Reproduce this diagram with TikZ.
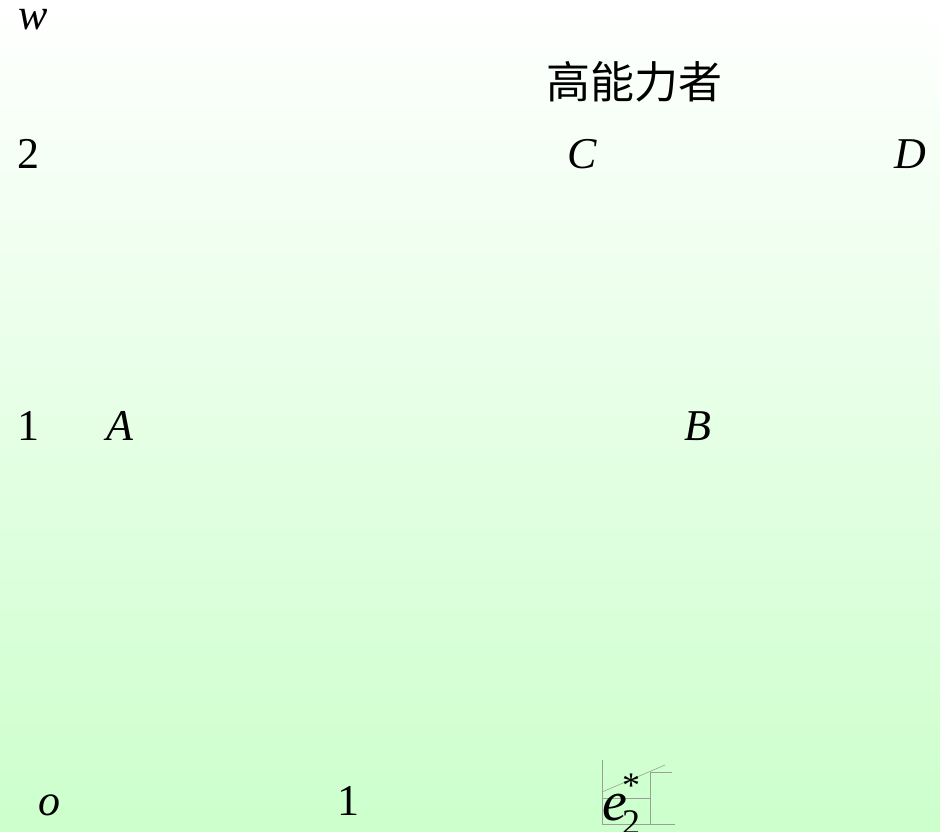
\documentclass[tikz,border=0pt]{standalone}
\usepackage{fontspec}
\setmainfont{Liberation Serif}
\newfontfamily\cjk{Noto Sans CJK SC}
\definecolor{bgbot}{RGB}{204,255,204}
\definecolor{thin}{RGB}{150,160,150}
\begin{document}
\begin{tikzpicture}[x=1pt,y=-1pt,
  lab/.style={anchor=base,inner sep=0pt,font=\fontsize{44}{48}\selectfont},
  biglab/.style={anchor=base,inner sep=0pt,font=\fontsize{56}{60}\selectfont},
  sublab/.style={anchor=base,inner sep=0pt,font=\fontsize{36}{40}\selectfont},
  thinline/.style={draw=thin,line width=0.6pt}]
\shade[top color=white,bottom color=bgbot] (0,0) rectangle (940,831);
\useasboundingbox (0,0) rectangle (940,831);
\node[lab] (w) at (33,29) {\itshape w};
\node[lab] (title) at (634,98) {\cjk 高能力者};
\node[lab] (two) at (28,168) {2};
\node[lab] (C) at (582,168) {\itshape C};
\node[lab] (D) at (910,168) {\itshape D};
\node[lab] (one) at (28,440) {1};
\node[lab] (A) at (120,440) {\itshape A};
\node[lab] (B) at (698,440) {\itshape B};
\node[lab] (o) at (49,815) {\itshape o};
\node[lab] (onex) at (348,815) {1};
% small inset
\coordinate (ax0) at (602,760);
\coordinate (org) at (602,824);
\coordinate (axx) at (675,824);
\coordinate (d0) at (602,792);
\coordinate (d1) at (665,765);
\coordinate (g0) at (650,772);
\coordinate (g1) at (672,772);
\coordinate (g2) at (650,824);
\coordinate (h0) at (602,798);
\coordinate (h1) at (650,798);
\draw[thinline] (ax0) -- (org) -- (axx);
\draw[thinline] (d0) -- (d1);
\draw[thinline] (g1) -- (g0) -- (g2);
\draw[thinline] (h0) -- (h1);
\node[biglab] (e2) at (615,820) {\itshape e};
\node[sublab] (e2sub) at (631,834) {2};
\node[sublab] (e2star) at (631,797) {*};
\end{tikzpicture}
\end{document}
